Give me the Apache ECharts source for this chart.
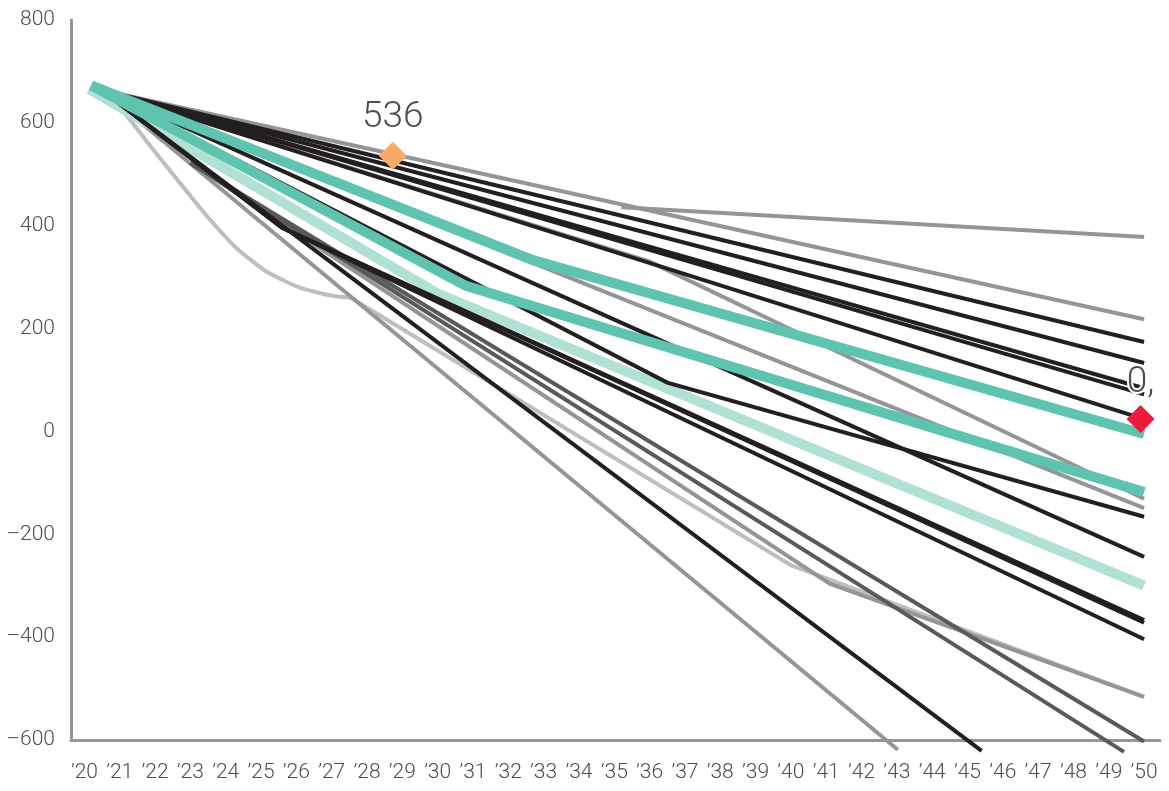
<!DOCTYPE html>
<html>
<head>
<meta charset="utf-8">
<script src="https://cdn.jsdelivr.net/npm/echarts@6/dist/echarts.min.js"></script>
<style>
  html, body { margin: 0; padding: 0; background: #ffffff; }
  #chart { width: 1169px; height: 791px; }
</style>
</head>
<body>
<div id="chart"></div>
<script>
// Tick years shown on the horizontal axis
const years = [];
for (let y = 2020; y <= 2050; y++) years.push(y);

// Pathways: [year, value]
const grayCurve   = [[2020.48, 664], [2021, 630], [2021.9, 552], [2022.8, 475], [2023.8, 393], [2024.7, 334], [2025.6, 295], [2026.6, 270], [2027.54, 260]];
const grayCurveOn = [[2027.54, 260], [2040, -260], [2050, -516]];
const grayTail    = [[2023.0, 522], [2041.1, -296], [2050, -516]];
const grayFlat    = [[2035.2, 436], [2050, 378]];
const grayHigh    = [[2020.48, 664], [2050, 218]];
const grayMidA    = [[2020.48, 664], [2036, 330], [2050, -131]];
const grayMidB    = [[2020.48, 664], [2050, -149]];
const grayLow     = [[2020.48, 664], [2043.03, -619]];
const darkLowA    = [[2023.0, 522], [2050, -603]];
const darkLowB    = [[2023.0, 522], [2049.43, -623]];
const black1      = [[2020.48, 664], [2050, 174]];
const black2      = [[2020.48, 664], [2050, 133]];
const black3      = [[2020.48, 664], [2050, 84]];
const black4      = [[2020.48, 664], [2050, 72]];
const black5      = [[2020.48, 664], [2050, 24]];
const black6      = [[2020.48, 664], [2036.5, 95], [2050, -166]];
const black7      = [[2020.48, 664], [2050, -244]];
const black8      = [[2020.48, 664], [2025.6, 396], [2050, -367]];
const black9      = [[2020.48, 664], [2025.6, 396], [2050, -372]];
const black10     = [[2020.48, 664], [2025.6, 396], [2050, -404]];
const black11     = [[2020.48, 664], [2045.4, -621]];
const tealUpper   = [[2020.19, 673], [2032.7, 333], [2050, -5]];
const tealLower   = [[2020.19, 673], [2030.8, 283], [2050, -118]];
const tealLight   = [[2020.13, 666], [2030, 268], [2050, -300]];

// Highlighted points
const peakPoint   = [[2028.73, 536]];
const endPoint    = [[2049.9, 24]];

const C_BLACK = '#231f20';
const C_DARK  = '#58595b';
const C_GRAY  = '#939598';
const C_LIGHT = '#bcbec0';
const C_TEAL  = '#5ec4b0';
const C_TEAL_L = '#b1e0d5';
const C_TEXT  = '#4d4d4f';
const FONT = 'Roboto, "Liberation Sans", sans-serif';

function path(data, color, width, smooth) {
  return {
    type: 'line', data: data, symbol: 'none', showSymbol: false, clip: false,
    silent: true, animation: false, smooth: smooth || false,
    lineStyle: { color: color, width: width, cap: 'butt', join: 'miter' },
    emphasis: { disabled: true }
  };
}

const chart = echarts.init(document.getElementById('chart'), null, { renderer: 'canvas' });
chart.setOption({
  animation: false,
  backgroundColor: '#ffffff',
  grid: { left: 71, right: 9, top: 20, bottom: 51, containLabel: false },
  xAxis: {
    type: 'value', min: 2019.62, max: 2050.45,
    axisLine: { show: true, onZero: false, lineStyle: { color: C_GRAY, width: 3 } },
    axisTick: { show: false },
    splitLine: { show: false },
    axisLabel: {
      customValues: years,
      formatter: v => '\u2019' + String(v).slice(2),
      color: C_TEXT, fontSize: 21, fontWeight: 300, fontFamily: FONT, margin: 22
    }
  },
  yAxis: {
    type: 'value', min: -600, max: 800, interval: 200,
    axisLine: { show: true, onZero: false, lineStyle: { color: C_GRAY, width: 3 } },
    axisTick: { show: false },
    splitLine: { show: false },
    axisLabel: {
      formatter: v => String(v).replace('-', '\u2013'),
      color: C_TEXT, fontSize: 21, fontWeight: 300, fontFamily: FONT, margin: 16
    }
  },
  series: [
    path(grayCurve, C_LIGHT, 4, 0.5),
    path(grayCurveOn, C_LIGHT, 4),
    path(grayTail, C_GRAY, 4),
    path(grayFlat, C_GRAY, 4),
    path(grayHigh, C_GRAY, 4),
    path(grayMidA, C_GRAY, 4),
    path(grayMidB, C_GRAY, 4),
    path(grayLow, C_GRAY, 4),
    path(darkLowA, C_DARK, 4),
    path(darkLowB, C_DARK, 4),
    path(tealLight, C_TEAL_L, 10),
    path(black1, C_BLACK, 4),
    path(black2, C_BLACK, 4),
    path(black3, C_BLACK, 4),
    path(black4, C_BLACK, 4),
    path(black5, C_BLACK, 4),
    path(black6, C_BLACK, 4),
    path(black7, C_BLACK, 4),
    path(black8, C_BLACK, 4),
    path(black9, C_BLACK, 4),
    path(black10, C_BLACK, 4),
    path(black11, C_BLACK, 4),
    path(tealLower, C_TEAL, 10),
    path(tealUpper, C_TEAL, 10),
    {
      type: 'scatter', data: peakPoint, symbol: 'diamond', symbolSize: 28, clip: false, silent: true, z: 5,
      itemStyle: { color: '#f9a968', opacity: 1 },
      label: { show: true, position: 'top', distance: 6, formatter: '536', color: C_TEXT, fontSize: 37, fontWeight: 300, fontFamily: FONT }
    },
    {
      type: 'scatter', data: endPoint, symbol: 'diamond', symbolSize: 28, clip: false, silent: true, z: 5,
      itemStyle: { color: '#ed1a3b', opacity: 1 },
      label: { show: true, position: 'top', distance: 4, formatter: '0,', color: C_TEXT, fontSize: 37, fontWeight: 300, fontFamily: FONT, textBorderColor: '#ffffff', textBorderWidth: 4 }
    }
  ]
});
</script>
</body>
</html>
